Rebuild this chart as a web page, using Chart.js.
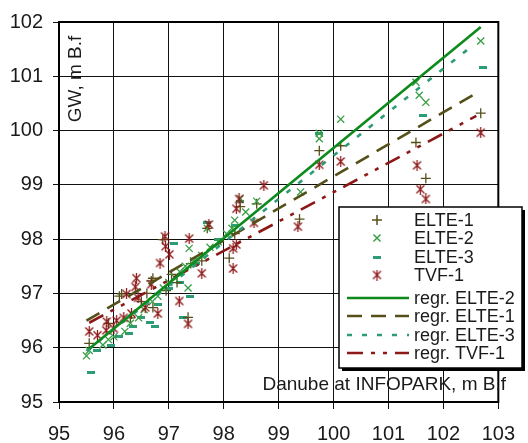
<!DOCTYPE html>
<html>
<head>
<meta charset="utf-8">
<script src="https://cdn.jsdelivr.net/npm/chart.js@4/dist/chart.umd.min.js"></script>
<style>
  body { margin: 0; background: #fff; }
  canvas { display: block; }
</style>
</head>
<body>
<canvas id="chart" width="528" height="443"></canvas>
<script>
// axis ranges / ticks
const xTicks = [95, 96, 97, 98, 99, 100, 101, 102, 103];
const yTicks = [95, 96, 97, 98, 99, 100, 101, 102];

// measured points [Danube level, GW level]
const elte1 = [
  [95.55, 96.08], [95.9, 96.45], [96.1, 96.95], [96.14, 96.99], [96.3, 96.55], [96.5, 96.85],
  [96.6, 97.0], [96.68, 97.23], [96.71, 97.28], [96.71, 96.74], [96.89, 97.99], [96.95, 97.05],
  [97.05, 97.35], [97.15, 97.2], [97.35, 96.56], [97.4, 97.55], [97.6, 97.6], [97.7, 98.2],
  [98.1, 97.65], [98.2, 98.1], [98.3, 98.6], [98.6, 98.65], [99.38, 98.37], [99.74, 99.63],
  [100.13, 99.72], [101.5, 99.78], [101.68, 99.12], [102.68, 100.32]
];
const elte2 = [
  [95.5, 95.85], [95.55, 95.95], [95.8, 96.05], [95.9, 96.15], [96.0, 96.2], [96.2, 96.3],
  [96.3, 96.45], [96.45, 96.55], [96.55, 96.7], [96.7, 96.85], [96.8, 96.95], [96.9, 97.1],
  [97.0, 97.2], [97.1, 97.3], [97.2, 97.4], [97.3, 97.5], [97.35, 97.1], [97.37, 97.83],
  [97.45, 97.6], [97.6, 97.7], [97.7, 98.2], [97.75, 97.85], [97.9, 97.95], [98.05, 98.1],
  [98.15, 98.2], [98.2, 98.35], [98.3, 98.75], [98.4, 98.5], [98.6, 98.7], [99.4, 98.87],
  [99.74, 99.85], [99.74, 99.95], [100.13, 100.21], [101.5, 100.89], [101.56, 100.65],
  [101.68, 100.52], [102.68, 101.65]
];
const elte3 = [
  [95.59, 95.55], [95.7, 95.95], [95.95, 96.05], [96.1, 96.2], [96.27, 96.26], [96.35, 96.4],
  [96.5, 96.55], [96.66, 96.46], [96.75, 96.39], [96.8, 96.8], [97.0, 97.1], [97.1, 97.92],
  [97.2, 97.2], [97.25, 96.56], [97.39, 96.95], [97.5, 97.55], [97.7, 98.3], [97.9, 98.0],
  [98.2, 98.25], [98.3, 98.7], [99.74, 99.95], [101.63, 100.27], [102.72, 101.16]
];
const tvf1 = [
  [95.55, 96.3], [95.7, 96.23], [95.86, 96.32], [95.87, 96.48], [96.0, 96.35], [96.05, 96.5],
  [96.18, 96.55], [96.23, 96.99], [96.32, 96.63], [96.39, 97.12], [96.41, 97.28], [96.44, 96.92],
  [96.57, 96.74], [96.68, 97.17], [96.8, 96.63], [96.84, 97.56], [96.93, 98.05], [96.94, 97.87],
  [97.01, 97.72], [97.19, 96.86], [97.35, 96.44], [97.37, 98.01], [97.6, 97.37], [97.73, 98.27],
  [98.17, 97.46], [98.17, 97.83], [98.23, 97.9], [98.23, 98.56], [98.28, 98.74], [98.55, 98.3],
  [98.73, 98.99], [99.35, 98.23], [99.74, 99.37], [100.13, 99.43], [101.52, 99.36],
  [101.58, 98.92], [101.68, 98.74], [102.68, 99.96]
];

// regression lines (end points)
const regrElte2 = [[95.55, 95.98], [102.68, 101.91]];
const regrElte1 = [[95.5, 96.5], [102.65, 100.72]];
const regrElte3 = [[95.5, 95.94], [102.5, 101.54]];
const regrTvf1 = [[95.55, 96.46], [102.6, 100.27]];

const cOlive = '#55501a';
const cGreen = '#3a9e46';
const cTeal = '#2c9c76';
const cRed = '#8c1818';
const cLine = '#0c8a1c';
const FONT = 'Liberation Sans, Arial, sans-serif';

// small marker images (Excel-like asterisk and dash)
function asterisk(color) {
  const c = document.createElement('canvas');
  c.width = 11; c.height = 11;
  const g = c.getContext('2d');
  g.strokeStyle = color;
  g.lineWidth = 1.25;
  g.beginPath();
  g.moveTo(1.5, 1.5); g.lineTo(9.5, 9.5);
  g.moveTo(9.5, 1.5); g.lineTo(1.5, 9.5);
  g.moveTo(5.5, 0); g.lineTo(5.5, 11);
  g.stroke();
  return c;
}
function dash(color) {
  const c = document.createElement('canvas');
  c.width = 8; c.height = 3;
  const g = c.getContext('2d');
  g.fillStyle = color;
  g.fillRect(0, 0, 8, 3);
  return c;
}

const xy = arr => arr.map(p => ({ x: p[0], y: p[1] }));

function pts(label, data, color, style, radius, bw, order) {
  return {
    label: label, data: xy(data), showLine: false, order: order,
    pointStyle: style, pointRadius: radius, pointHoverRadius: radius,
    pointBorderWidth: bw, borderColor: color, backgroundColor: color
  };
}
function regr(label, data, color, dsh, order) {
  return {
    label: label, data: xy(data), showLine: true, order: order,
    pointRadius: 0, borderColor: color, borderWidth: 2.6, borderDash: dsh,
    borderCapStyle: 'butt', fill: false
  };
}

const datasets = [
  pts('ELTE-1', elte1, cOlive, 'cross', 5, 1.3, 6),
  pts('ELTE-2', elte2, cGreen, 'crossRot', 5, 1.3, 5),
  pts('ELTE-3', elte3, cTeal, dash(cTeal), 4, 1, 7),
  pts('TVF-1', tvf1, cRed, asterisk(cRed), 5.5, 1, 4),
  regr('regr. ELTE-2', regrElte2, cLine, [], 0),
  regr('regr. ELTE-1', regrElte1, cOlive, [15, 9], 2),
  regr('regr. ELTE-3', regrElte3, cTeal, [5, 10], 1),
  regr('regr. TVF-1', regrTvf1, cRed, [16, 8, 4, 8, 4, 8], 3)
];

const legendRows = [220, 238, 257, 275, 298, 316, 335, 353];

const framePlugin = {
  id: 'frame',
  afterDraw(chart) {
    const ctx = chart.ctx;
    const a = chart.chartArea;
    ctx.save();
    ctx.strokeStyle = '#000';
    ctx.lineWidth = 2;
    ctx.strokeRect(a.left, a.top, a.right - a.left, a.bottom - a.top);

    ctx.fillStyle = '#1a1a1a';
    ctx.font = '19px ' + FONT;
    ctx.textBaseline = 'middle';
    ctx.textAlign = 'right';
    ctx.fillText('Danube at INFOPARK, m B.f', 506, 385);
    ctx.save();
    ctx.translate(76, 79);
    ctx.rotate(-Math.PI / 2);
    ctx.textAlign = 'center';
    ctx.fillText('GW, m B.f', 0, 0);
    ctx.restore();

    // legend box with shadow
    ctx.fillStyle = '#000';
    ctx.fillRect(342, 210, 183, 161);
    ctx.fillStyle = '#fff';
    ctx.fillRect(339, 207, 183, 161);
    ctx.lineWidth = 1.5;
    ctx.strokeRect(339, 207, 183, 161);

    ctx.font = '18px ' + FONT;
    ctx.textAlign = 'left';
    datasets.forEach((ds, i) => {
      const y = legendRows[i];
      if (ds.showLine) {
        ctx.save();
        ctx.strokeStyle = ds.borderColor;
        ctx.lineWidth = ds.borderWidth;
        ctx.setLineDash(ds.borderDash);
        ctx.beginPath();
        ctx.moveTo(347, y);
        ctx.lineTo(409, y);
        ctx.stroke();
        ctx.restore();
      } else {
        ctx.save();
        ctx.strokeStyle = ds.borderColor;
        ctx.fillStyle = ds.borderColor;
        Chart.helpers.drawPoint(ctx, {
          pointStyle: ds.pointStyle, radius: ds.pointRadius, rotation: 0,
          borderWidth: ds.pointBorderWidth
        }, 377, y);
        ctx.restore();
      }
      ctx.fillStyle = '#1a1a1a';
      ctx.fillText(ds.label, 414, y + 1);
    });
    ctx.restore();
  }
};

new Chart(document.getElementById('chart'), {
  type: 'scatter',
  data: { datasets: datasets },
  options: {
    responsive: false,
    animation: false,
    layout: { padding: { top: 18, right: 20, left: 0, bottom: 0 } },
    plugins: { legend: { display: false }, tooltip: { enabled: false } },
    scales: {
      x: {
        type: 'linear', min: xTicks[0], max: xTicks[xTicks.length - 1],
        afterBuildTicks: s => { s.ticks = xTicks.map(v => ({ value: v })); },
        afterFit: s => { s.height = 41; },
        ticks: { color: '#1a1a1a', font: { family: FONT, size: 20 }, padding: 13, maxRotation: 0 },
        grid: { color: '#111', lineWidth: 1, tickLength: 7 },
        border: { color: '#000', width: 2 }
      },
      y: {
        type: 'linear', min: yTicks[0], max: yTicks[yTicks.length - 1],
        afterBuildTicks: s => { s.ticks = yTicks.map(v => ({ value: v })); },
        afterFit: s => { s.width = 59; },
        ticks: { color: '#1a1a1a', font: { family: FONT, size: 20 }, padding: 10 },
        grid: { color: '#111', lineWidth: 1, tickLength: 6 },
        border: { color: '#000', width: 2 }
      }
    }
  },
  plugins: [framePlugin]
});
</script>
</body>
</html>
